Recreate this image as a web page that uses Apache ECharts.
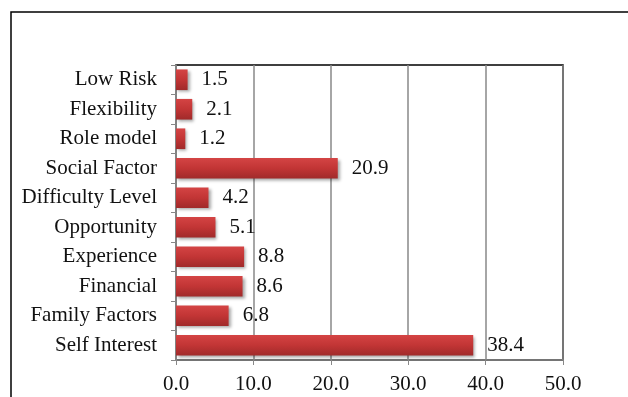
<!DOCTYPE html>
<html>
<head>
<meta charset="utf-8">
<script src="https://cdn.jsdelivr.net/npm/echarts@6/dist/echarts.min.js"></script>
<style>
  html, body { margin: 0; padding: 0; background: #fff; }
  #chart { width: 628px; height: 397px; }
</style>
</head>
<body>
<div id="chart"></div>
<script>
const categories = ['Low Risk', 'Flexibility', 'Role model', 'Social Factor', 'Difficulty Level',
  'Opportunity', 'Experience', 'Financial', 'Family Factors', 'Self Interest'];
const values = [1.5, 2.1, 1.2, 20.9, 4.2, 5.1, 8.8, 8.6, 6.8, 38.4];

const chart = echarts.init(document.getElementById('chart'));
const font = 'Liberation Serif';

const option = {
  animation: false,
  backgroundColor: '#fff',
  graphic: [
    {
      type: 'rect',
      shape: { x: 11, y: 12, width: 700, height: 500 },
      style: { fill: 'none', stroke: '#000', lineWidth: 1.5 },
      silent: true
    }
  ],
  grid: {
    left: 176, top: 65, right: 65, bottom: 37,
    show: true,
    borderColor: '#000',
    borderWidth: 1.5
  },
  xAxis: {
    type: 'value',
    min: 0, max: 50, interval: 10,
    axisLine: { show: true, lineStyle: { color: '#888', width: 1.5 } },
    axisTick: { show: true, length: 5, lineStyle: { color: '#888' } },
    splitLine: { lineStyle: { color: '#888', width: 1.5 } },
    axisLabel: {
      color: '#111', fontFamily: font, fontSize: 21, margin: 14,
      formatter: (v) => v.toFixed(1)
    }
  },
  yAxis: {
    type: 'category',
    data: categories,
    inverse: true,
    axisLine: { show: true, lineStyle: { color: '#888', width: 1.5 } },
    axisTick: { show: true, length: 5, lineStyle: { color: '#888' } },
    axisLabel: { color: '#111', fontFamily: font, fontSize: 21, margin: 19 }
  },
  series: [
    {
      type: 'bar',
      data: values,
      barWidth: '70%',
      itemStyle: {
        color: new echarts.graphic.LinearGradient(0, 0, 0, 1, [
          { offset: 0, color: '#d44444' },
          { offset: 0.5, color: '#c23535' },
          { offset: 1, color: '#a02a2a' }
        ]),
        shadowColor: 'rgba(0,0,0,0.35)',
        shadowBlur: 3,
        shadowOffsetX: 2,
        shadowOffsetY: 2
      },
      label: {
        show: true,
        position: 'right',
        distance: 14,
        color: '#111',
        fontFamily: font,
        fontSize: 21,
        formatter: (p) => p.value.toFixed(1)
      }
    }
  ]
};

chart.setOption(option);
</script>
</body>
</html>
